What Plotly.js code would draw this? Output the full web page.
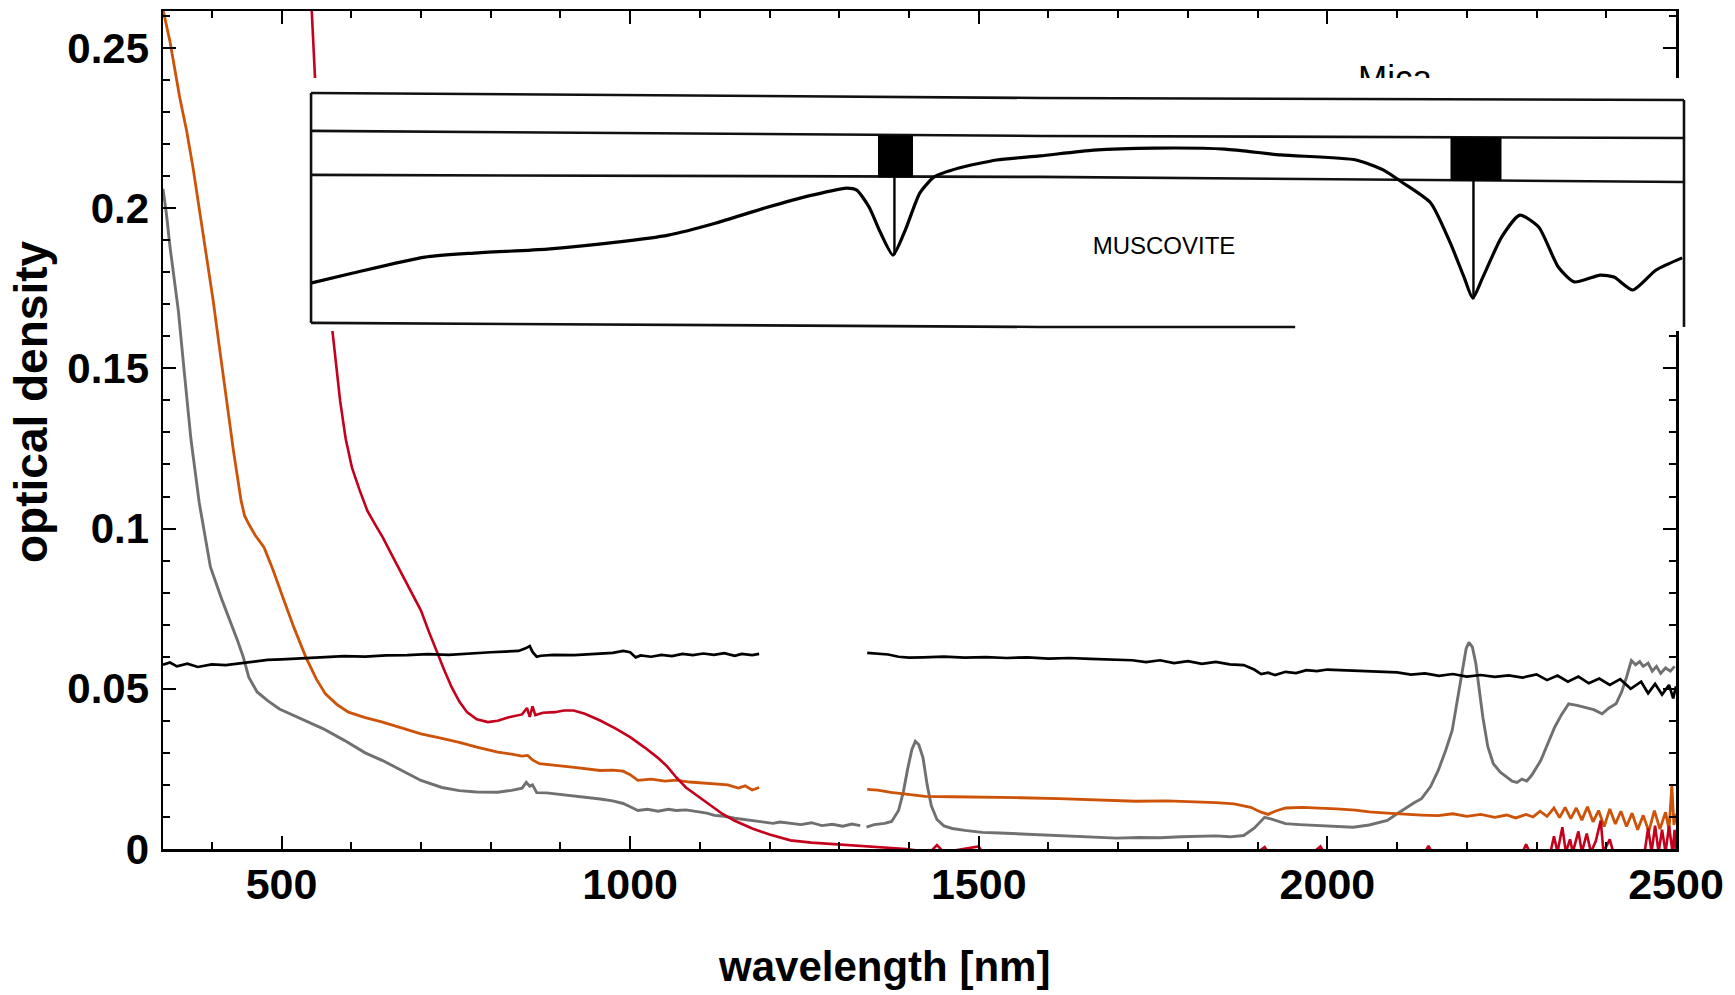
<!DOCTYPE html>
<html>
<head>
<meta charset="utf-8">
<script src="https://cdn.plot.ly/plotly-3.0.1.min.js"></script>
<style>html,body{margin:0;padding:0;background:#fff;}#chart{width:1735px;height:995px;}</style>
</head>
<body>
<div id="chart"></div>
<script>
// ---------------- main spectra (wavelength nm, optical density) ----------------
const wlGrey = [330,335,340,345,352,360,370,382,398,415,425,437,445,453,465,480,497,515,535,560,590,620,645,670,700,730,755,780,810,830,845,851,856,860,866,880,900,930,957,975,990,1000,1011,1025,1040,1055,1066,1080,1095,1110,1121,1135,1150,1165,1176,1190,1205,1215,1230,1245,1260,1275,1290,1305,1318,1330,null,
  1339,1350,1365,1375,1385,1392,1398,1404,1409,1414,1420,1426,1432,1440,1450,1462,1480,1505,1530,1560,1590,1615,1640,1670,1698,1730,1760,1790,1817,1840,1860,1880,1895,1910,1920,1930,1940,1960,1988,2010,2037,2060,2086,2100,2110,2125,2135,2148,2159,2170,2179,2187,2194,2199,2203,2208,2213,2218,2223,2230,2238,2248,2257,2265,2272,2279,2286,2293,2306,2316,2326,2336,2346,2358,2370,2382,2394,2404,2414,2422,2429,2436,2442,2448,2453,2460,2466,2472,2478,2485,2492,2498];
const odGrey = [0.206,0.198,0.188,0.180,0.168,0.150,0.128,0.108,0.088,0.0775,0.072,0.065,0.060,0.0536,0.049,0.0463,0.0437,0.042,0.0400,0.0375,0.0339,0.030,0.0276,0.0248,0.0214,0.0192,0.0182,0.0178,0.0177,0.0183,0.0190,0.0208,0.0196,0.0200,0.0176,0.0175,0.0170,0.0164,0.0156,0.0150,0.0142,0.0132,0.0120,0.0124,0.0118,0.0124,0.0120,0.0122,0.0116,0.0112,0.0105,0.0102,0.0096,0.0092,0.0089,0.0086,0.0080,0.0084,0.0080,0.0076,0.0082,0.0073,0.0077,0.0071,0.0078,0.0073,null,
  0.0068,0.0076,0.0080,0.0086,0.0120,0.0180,0.0250,0.0310,0.0336,0.0325,0.0285,0.0200,0.0135,0.0092,0.0072,0.0064,0.0058,0.0052,0.0050,0.0047,0.0045,0.0042,0.0040,0.0037,0.0034,0.0036,0.0035,0.0038,0.0040,0.0041,0.0038,0.0042,0.0065,0.0099,0.0093,0.0085,0.0079,0.0076,0.0073,0.0071,0.0068,0.0075,0.0089,0.0110,0.0125,0.0145,0.0157,0.0195,0.0245,0.0310,0.0370,0.0470,0.0567,0.0625,0.0645,0.0630,0.0578,0.0490,0.0411,0.0320,0.0266,0.0240,0.0224,0.0212,0.0208,0.0218,0.0212,0.0230,0.0276,0.0330,0.0380,0.0420,0.0453,0.0448,0.0442,0.0435,0.0422,0.0440,0.0453,0.0490,0.0536,0.0588,0.0575,0.0585,0.0570,0.0580,0.0555,0.0570,0.0548,0.0565,0.0555,0.0570];

const wlOrange = [330,340,354,364,373,380,388,395,402,410,421,431,442,447,453,462,475,488,502,518,535,550,563,580,596,620,645,670,700,730,755,780,810,830,845,853,860,870,890,920,957,975,990,1000,1011,1030,1050,1066,1085,1105,1121,1140,1155,1165,1175,1185,null,
  1340,1355,1374,1400,1423,1460,1505,1560,1615,1670,1725,1770,1817,1840,1866,1890,1905,1915,1925,1940,1964,1990,2013,2040,2060,2086,2110,2135,2159,2180,2200,2220,2240,2257,2270,2285,2295,2305,2315,2325,2333,2341,2349,2357,2365,2373,2381,2389,2397,2405,2413,2421,2429,2437,2445,2453,2461,2469,2477,2485,2490,2494,2497,2500];
const odOrange = [0.262,0.252,0.2345,0.224,0.2127,0.203,0.1919,0.182,0.1711,0.158,0.1399,0.1243,0.1087,0.104,0.1014,0.098,0.0941,0.087,0.0785,0.069,0.0598,0.053,0.0484,0.0450,0.0427,0.0410,0.0396,0.0380,0.0359,0.0345,0.0333,0.0318,0.0302,0.0296,0.0290,0.0292,0.0278,0.0266,0.0262,0.0255,0.0245,0.0246,0.0243,0.0232,0.0214,0.0218,0.0212,0.0215,0.0209,0.0206,0.0203,0.0200,0.0190,0.0197,0.0184,0.0192,null,
  0.0186,0.0184,0.0177,0.0170,0.0164,0.0163,0.0162,0.0160,0.0157,0.0153,0.0149,0.0150,0.0147,0.0145,0.0141,0.0130,0.0115,0.0108,0.0118,0.0128,0.0130,0.0128,0.0125,0.0121,0.0116,0.0112,0.0108,0.0106,0.0104,0.0110,0.0102,0.0108,0.0099,0.0106,0.0097,0.0108,0.0100,0.0118,0.0102,0.0128,0.0098,0.0130,0.0095,0.0128,0.0090,0.0132,0.0085,0.0120,0.0070,0.0125,0.0078,0.0118,0.0070,0.0112,0.0060,0.0105,0.0055,0.0120,0.0062,0.0115,0.0060,0.0198,0.0075,0.0110];

const wlRed = [541,543,548,573,584,592,601,612,623,635,645,660,678,700,711,722,733,744,755,766,780,796,810,826,845,852,856,860,864,875,892,905,919,935,957,980,1000,1020,1039,1053,1066,1080,1099,1115,1132,1150,1176,1200,1230,1260,1286,1315,1341,1370,1396,1430,1440,1450,1500,1505,1560,1620,1700,1800,1900,1910,1915,1980,1990,1995,2140,2145,2150,2280,2285,2290,2320,2325,2330,2337,2342,2348,2352,2360,2365,2372,2378,2385,2392,2396,2405,2410,2455,2460,2465,2470,2475,2480,2485,2490,2495,2498,2500];
const odRed = [0.272,0.2615,0.2407,0.1617,0.1399,0.128,0.119,0.112,0.1056,0.101,0.0973,0.091,0.0837,0.0744,0.068,0.0619,0.056,0.0505,0.046,0.0427,0.0405,0.0396,0.0400,0.0411,0.0420,0.0440,0.0412,0.0445,0.0418,0.0425,0.0427,0.0432,0.0432,0.0422,0.0401,0.0375,0.0349,0.0318,0.0286,0.0258,0.0224,0.0192,0.0162,0.0135,0.0110,0.0088,0.0063,0.0045,0.0027,0.0020,0.0016,0.0011,0.0008,0.0004,0.0000,-0.001,0.0012,-0.001,0.0008,-0.001,-0.0005,-0.001,-0.001,-0.001,-0.001,0.0006,-0.001,-0.001,0.0008,-0.001,-0.001,0.0010,-0.001,-0.001,0.0015,-0.001,-0.001,0.0040,-0.001,0.0068,-0.001,0.0030,-0.001,0.0055,-0.001,0.0048,-0.001,0.0025,0.0089,-0.001,0.0030,-0.001,-0.001,0.0065,-0.001,0.0073,-0.001,0.0060,-0.001,0.0072,-0.001,0.0060,-0.001];

const wlBlack = [330,340,350,365,380,400,420,440,460,480,500,530,560,590,620,650,680,710,740,770,800,820,840,850,856,860,866,872,890,920,950,975,990,1000,1008,1015,1030,1045,1060,1075,1090,1105,1120,1135,1150,1160,1175,1185,null,
  1340,1355,1370,1385,1400,1420,1450,1480,1510,1540,1570,1600,1630,1660,1690,1720,1740,1760,1780,1800,1820,1840,1860,1880,1895,1905,1915,1925,1940,1955,1970,1985,2000,2020,2040,2060,2080,2100,2120,2140,2160,2180,2200,2220,2240,2260,2280,2300,2315,2330,2345,2360,2375,2390,2405,2420,2435,2450,2460,2470,2480,2490,2496,2500];
const odBlack = [0.0575,0.0582,0.0570,0.0578,0.0568,0.0576,0.0574,0.0580,0.0585,0.0590,0.0592,0.0596,0.0598,0.0602,0.0600,0.0604,0.0605,0.0608,0.0606,0.0611,0.0614,0.0616,0.0618,0.0626,0.0633,0.0615,0.0600,0.0603,0.0606,0.0605,0.0609,0.0612,0.0618,0.0614,0.0598,0.0604,0.0600,0.0606,0.0602,0.0609,0.0605,0.0610,0.0606,0.0611,0.0603,0.0609,0.0605,0.0609,null,
  0.0612,0.0610,0.0607,0.0600,0.0597,0.0598,0.0600,0.0597,0.0599,0.0596,0.0598,0.0594,0.0596,0.0593,0.0591,0.0589,0.0583,0.0589,0.0580,0.0586,0.0578,0.0584,0.0576,0.0574,0.0560,0.0546,0.0550,0.0543,0.0553,0.0549,0.0558,0.0555,0.0560,0.0558,0.0556,0.0554,0.0553,0.0551,0.0544,0.0548,0.0540,0.0546,0.0538,0.0543,0.0537,0.0542,0.0535,0.0545,0.0527,0.0541,0.0522,0.0538,0.0517,0.0532,0.0512,0.0530,0.0500,0.0522,0.0486,0.0515,0.0482,0.0512,0.0470,0.0508];

// ---------------- inset: scanned muscovite reflectance (wavelength nm, relative units) ----------------
const insetRangeX = [592.8, 2499.8];
const insetRangeY = [0, 100];
const wlMusc = [598,655,754,822,923,1022,1090,1156,1223,1290,1336,1350,1367,1383,1400,1417,1437,1457,1491,1543,1603,1677,1761,1858,1935,2039,2077,2104,2142,2169,2188,2200,2214,2240,2265,2291,2318,2340,2376,2395,2421,2453,2489];
const reflMusc = [19.0,22.9,29.2,30.8,32.4,35.2,37.9,42.7,48.6,53.8,56.5,55.7,49.0,38.7,30.0,39.9,54.5,60.9,64.4,67.6,69.2,71.5,72.3,71.9,69.6,67.6,63.6,58.5,50.6,34.8,21.3,13.0,21.3,37.2,45.8,41.1,25.3,19.4,22.1,21.3,16.2,24.1,28.9];
const frameX = [597,1603,2491.5,null, 597,1603,2491.5,null, 597,1603,2491.5,null, 597,1603,1955,null, 597,597,null, 2491.5,2491.5];
const frameY = [94.1,92.1,91.3,null, 79.1,77.1,76.3,null, 61.7,60.9,58.9,null, 3.2,1.6,1.6,null, 3.2,94.1,null, 1.6,91.3];
const bandX = [1380,1427,1427,1380,1380,null, 2170,2239,2239,2170,2170];
const bandY = [77.1,77.1,60.9,60.9,77.1,null, 76.3,76.3,59.7,59.7,76.3];
const stemX = [1402,1402,null,2201,2201];
const stemY = [60.9,30.0,null,59.7,12.6];
const insetLabel = {x: 1774, y: 32.8, text: 'MUSCOVITE'};
const topLabel = {x: 2097, y: 0.2397, text: 'Mica'};

// ---------------- axis ticks ----------------
const xRange = [330, 2500];
const yRange = [0, 0.2615];
const xTickVals = [500, 1000, 1500, 2000, 2500];
const yTickVals = [0, 0.05, 0.1, 0.15, 0.2, 0.25];
const yTickText = ['0', '0.05', '0.1', '0.15', '0.2', '0.25'];

const boldFont = {family: '"Liberation Sans Narrow", "Arial Narrow", "Liberation Sans", Arial, sans-serif', weight: 700, color: '#000'};

function line(x, y, color, w, axes) {
  return {type: 'scatter', mode: 'lines', x: x, y: y, xaxis: axes[0], yaxis: axes[1],
          line: {color: color, width: w}, connectgaps: false, hoverinfo: 'skip', showlegend: false};
}

const traces = [
  line(wlGrey, odGrey, '#707070', 2.9, ['x','y']),
  line(wlOrange, odOrange, '#cc5308', 2.8, ['x','y']),
  line(wlRed, odRed, '#c4001c', 2.6, ['x','y']),
  line(wlBlack, odBlack, '#000000', 2.7, ['x','y']),
  {type: 'scatter', mode: 'text', x: [topLabel.x], y: [topLabel.y], text: [topLabel.text], textposition: 'middle center',
   textfont: {family: '"Liberation Sans", Arial, sans-serif', size: 35, color: '#000'}, hoverinfo: 'skip', showlegend: false, xaxis: 'x', yaxis: 'y'},
  // inset white paper
  {type: 'scatter', mode: 'lines', x: [insetRangeX[0], insetRangeX[1], insetRangeX[1], insetRangeX[0], insetRangeX[0]],
   y: [insetRangeY[0], insetRangeY[0], insetRangeY[1], insetRangeY[1], insetRangeY[0]],
   fill: 'toself', fillcolor: '#ffffff', line: {width: 0, color: '#ffffff'}, xaxis: 'x2', yaxis: 'y2', hoverinfo: 'skip', showlegend: false},
  line(frameX, frameY, '#111111', 2.6, ['x2','y2']),
  {type: 'scatter', mode: 'lines', x: bandX, y: bandY, fill: 'toself', fillcolor: '#000000', line: {width: 1, color: '#000'},
   xaxis: 'x2', yaxis: 'y2', hoverinfo: 'skip', showlegend: false},
  line(stemX, stemY, '#000000', 2.4, ['x2','y2']),
  {type: 'scatter', mode: 'lines', x: wlMusc, y: reflMusc, line: {color: '#000', width: 3.2, shape: 'spline', smoothing: 0.6},
   xaxis: 'x2', yaxis: 'y2', hoverinfo: 'skip', showlegend: false},
  {type: 'scatter', mode: 'text', x: [insetLabel.x], y: [insetLabel.y], text: [insetLabel.text], textposition: 'middle center',
   textfont: {family: '"Liberation Sans Narrow", "Arial Narrow", "Liberation Sans", Arial, sans-serif', size: 24, color: '#000'},
   xaxis: 'x2', yaxis: 'y2', hoverinfo: 'skip', showlegend: false}
];

const L = 163, R = 40, T = 11, B = 146, W = 1735, H = 995;
const plotW = W - L - R, plotH = H - T - B;
const px = v => (v - L) / plotW;
const py = v => (H - B - v) / plotH;

const layout = {
  width: W, height: H,
  margin: {l: L, r: R, t: T, b: B, pad: 0},
  paper_bgcolor: '#ffffff', plot_bgcolor: '#ffffff',
  showlegend: false,
  xaxis: {
    domain: [0, px(1676)], range: xRange, anchor: 'y',
    showgrid: false, zeroline: false,
    showline: true, linecolor: '#000', linewidth: 2.5, mirror: 'ticks',
    ticks: 'inside', ticklen: 13, tickwidth: 2, tickcolor: '#000',
    tickvals: xTickVals, ticktext: xTickVals.map(String),
    tickfont: Object.assign({size: 43}, boldFont), ticklabelstandoff: -4,
    minor: {ticks: 'inside', ticklen: 7, tickwidth: 2, tickcolor: '#000', dtick: 100, showgrid: false}
  },
  yaxis: {
    domain: [0, 1], range: yRange, anchor: 'x',
    showgrid: false, zeroline: false,
    showline: true, linecolor: '#000', linewidth: 2.5, mirror: 'ticks',
    ticks: 'inside', ticklen: 13, tickwidth: 2, tickcolor: '#000',
    tickvals: yTickVals, ticktext: yTickText,
    tickfont: Object.assign({size: 42}, boldFont), ticklabelstandoff: 3,
    minor: {ticks: 'inside', ticklen: 7, tickwidth: 2, tickcolor: '#000', dtick: 0.01, showgrid: false}
  },
  xaxis2: {domain: [px(308), px(1690)], range: insetRangeX, anchor: 'y2', visible: false, fixedrange: true},
  yaxis2: {domain: [py(331), py(78)], range: insetRangeY, anchor: 'x2', visible: false, fixedrange: true},
  annotations: [
    {text: 'wavelength [nm]', xref: 'paper', yref: 'paper', x: px(884), y: py(966), xanchor: 'center', yanchor: 'middle',
     showarrow: false, font: {family: '"Liberation Sans", Arial, sans-serif', size: 42, weight: 700, color: '#000'}},
    {text: 'optical density', xref: 'paper', yref: 'paper', x: px(31), y: py(402), xanchor: 'center', yanchor: 'middle',
     textangle: -90, showarrow: false, font: {family: '"Liberation Sans", Arial, sans-serif', size: 46, weight: 700, color: '#000'}}
  ]
};

Plotly.newPlot('chart', traces, layout, {staticPlot: true, displayModeBar: false});
</script>
</body>
</html>
